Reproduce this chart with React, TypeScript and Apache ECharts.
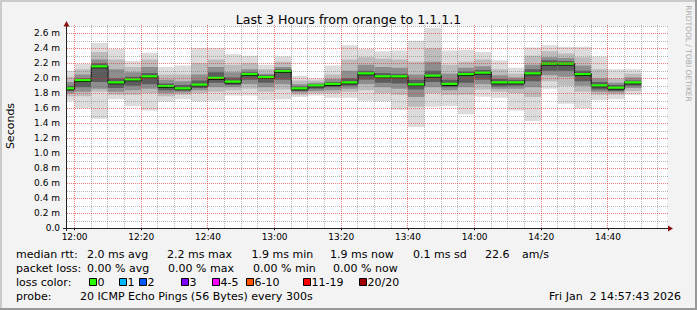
import React, { useEffect, useRef } from "react";
import * as echarts from "echarts";

// ---------- data ----------
// column end times, minutes after 12:00 (each column covers the 5 minutes before it)
const colEndMin = [0, 5, 10, 15, 20, 25, 30, 35, 40, 45, 50, 55, 60, 65, 70, 75, 80, 85, 90, 95, 100, 105, 110, 115, 120, 125, 130, 135, 140, 145, 150, 155, 160, 165, 170];
// ms
const pingMin = [1.70, 1.60, 1.46, 1.72, 1.63, 1.57, 1.69, 1.72, 1.69, 1.70, 1.77, 1.77, 1.71, 1.72, 1.75, 1.77, 1.74, 1.74, 1.70, 1.69, 1.58, 1.35, 1.62, 1.63, 1.52, 1.755, 1.74, 1.57, 1.43, 1.86, 1.66, 1.60, 1.71, 1.72, 1.78];
const smokeLo2 = [1.76, 1.76, 1.82, 1.78, 1.78, 1.80, 1.76, 1.78, 1.80, 1.82, 1.84, 1.86, 1.82, 1.85, 1.78, 1.80, 1.80, 1.82, 1.84, 1.80, 1.78, 1.62, 1.80, 1.78, 1.78, 1.85, 1.82, 1.80, 1.75, 1.96, 1.90, 1.82, 1.78, 1.78, 1.83];
const smokeLo3 = [1.80, 1.82, 1.86, 1.82, 1.84, 1.86, 1.80, 1.81, 1.84, 1.88, 1.88, 1.92, 1.88, 1.92, 1.81, 1.83, 1.84, 1.86, 1.92, 1.88, 1.86, 1.75, 1.88, 1.84, 1.88, 1.92, 1.86, 1.86, 1.88, 2.04, 2.02, 1.90, 1.82, 1.81, 1.87];
const smokeLo4 = [1.83, 1.88, 1.95, 1.87, 1.90, 1.92, 1.84, 1.84, 1.87, 1.94, 1.91, 1.98, 1.94, 1.98, 1.83, 1.86, 1.88, 1.90, 1.98, 1.94, 1.93, 1.85, 1.95, 1.88, 1.94, 1.98, 1.89, 1.90, 1.96, 2.10, 2.10, 1.96, 1.85, 1.83, 1.90];
const medianRtt = [1.86, 1.97, 2.155, 1.94, 1.98, 2.02, 1.89, 1.86, 1.91, 2.00, 1.95, 2.05, 2.01, 2.09, 1.86, 1.90, 1.92, 1.94, 2.06, 2.02, 2.02, 1.915, 2.03, 1.92, 2.05, 2.07, 1.94, 1.94, 2.06, 2.19, 2.19, 2.05, 1.90, 1.87, 1.94];
const smokeHi4 = [1.90, 2.00, 2.20, 2.00, 2.02, 2.07, 1.93, 1.91, 1.97, 2.08, 2.01, 2.08, 2.04, 2.12, 1.89, 1.92, 1.95, 2.00, 2.10, 2.07, 2.06, 1.98, 2.10, 1.98, 2.09, 2.11, 1.99, 1.98, 2.12, 2.24, 2.23, 2.10, 1.95, 1.91, 1.97];
const smokeHi3 = [1.95, 2.05, 2.25, 2.12, 2.08, 2.15, 1.98, 1.96, 2.05, 2.15, 2.08, 2.12, 2.06, 2.15, 1.92, 1.94, 1.99, 2.10, 2.18, 2.15, 2.14, 2.05, 2.22, 2.06, 2.14, 2.16, 2.04, 2.01, 2.18, 2.28, 2.27, 2.17, 2.00, 1.94, 2.01];
const smokeHi2 = [2.02, 2.12, 2.35, 2.25, 2.15, 2.25, 2.05, 2.05, 2.20, 2.25, 2.18, 2.20, 2.12, 2.22, 1.97, 1.97, 2.05, 2.25, 2.28, 2.26, 2.25, 2.22, 2.40, 2.18, 2.22, 2.25, 2.12, 2.06, 2.30, 2.36, 2.33, 2.28, 2.12, 2.00, 2.06];
const pingMax = [2.10, 2.19, 2.47, 2.39, 2.23, 2.34, 2.15, 2.17, 2.40, 2.40, 2.32, 2.30, 2.18, 2.29, 2.03, 2.00, 2.17, 2.44, 2.39, 2.36, 2.37, 2.50, 2.67, 2.37, 2.38, 2.35, 2.24, 2.14, 2.41, 2.44, 2.42, 2.42, 2.29, 2.12, 2.12];

const xTickMinutes = [0, 20, 40, 60, 80, 100, 120, 140, 160];
const xTickLabels = ["12:00", "12:20", "12:40", "13:00", "13:20", "13:40", "14:00", "14:20", "14:40"];
const xGridMinutes = [0, 5, 10, 15, 20, 25, 30, 35, 40, 45, 50, 55, 60, 65, 70, 75, 80, 85, 90, 95, 100, 105, 110, 115, 120, 125, 130, 135, 140, 145, 150, 155, 160, 165, 170, 175];
const yGridMs = [0.1, 0.2, 0.3, 0.4, 0.5, 0.6, 0.7, 0.8, 0.9, 1.0, 1.1, 1.2, 1.3, 1.4, 1.5, 1.6, 1.7, 1.8, 1.9, 2.0, 2.1, 2.2, 2.3, 2.4, 2.5, 2.6, 2.7];
const yMajorMs = [0.2, 0.4, 0.6, 0.8, 1.0, 1.2, 1.4, 1.6, 1.8, 2.0, 2.2, 2.4, 2.6];

const X_MIN = -2.2833; // 11:57:43
const X_MAX = 177.7167; // 14:57:43
const STEP = 5;

const titleText = "Last 3 Hours from orange to 1.1.1.1";
const medianStats = ["2.0 ms avg", "2.2 ms max", "1.9 ms min", "1.9 ms now", "0.1 ms sd", "22.6", "am/s"];
const lossStats = ["0.00 % avg", "0.00 % max", "0.00 % min", "0.00 % now"];
const lossLabels = ["0", "1", "2", "3", "4-5", "6-10", "11-19", "20/20"];
const lossColors = ["#26ff00", "#00b8ff", "#0059ff", "#7e00ff", "#ff00ff", "#ff5500", "#ff0000", "#a10000"];
const probeText = "20 ICMP Echo Pings (56 Bytes) every 300s";
const dateText = "Fri Jan  2 14:57:43 2026";

const FONT = "DejaVu Sans";
const MINOR = "rgba(110,110,110,0.5)";
const MAJOR = "rgba(235,40,40,0.62)";

export default function App() {
  const ref = useRef<HTMLDivElement>(null);
  useEffect(() => {
    if (!ref.current) return;
    const chart = echarts.init(ref.current, undefined, { renderer: "svg" });

    const smokeData = colEndMin.map((t, i) => [t, pingMin[i], smokeLo2[i], smokeLo3[i], smokeLo4[i], medianRtt[i], smokeHi4[i], smokeHi3[i], smokeHi2[i], pingMax[i]]);
    const bandColors = ["#dcdcdc", "#bcbcbc", "#8e8e8e", "#5c5c5c"];

    const renderSmoke = (params: any, api: any) => {
      const end = api.value(0);
      const xs = api.coord([end - STEP, 0])[0];
      const xe = api.coord([end, 0])[0];
      const children: any[] = [];
      for (let b = 0; b < 4; b++) {
        const lo = api.value(1 + b);
        const hi = api.value(9 - b);
        const yt = api.coord([end, hi])[1];
        const yb = api.coord([end, lo])[1];
        children.push({ type: "rect", shape: { x: xs, y: yt, width: xe - xs, height: yb - yt }, style: { fill: bandColors[b] } });
      }
      return { type: "group", children };
    };

    const renderMedian = (params: any, api: any) => {
      const i = params.dataIndex;
      const end = api.value(0);
      const xs = api.coord([end - STEP, 0])[0];
      const xe = api.coord([end, 0])[0];
      const ym = api.coord([end, api.value(5)])[1];
      const children: any[] = [];
      if (i > 0) {
        const yp = api.coord([end, medianRtt[i - 1]])[1];
        children.push({ type: "rect", shape: { x: xs - 0.5, y: Math.min(yp, ym) - 1, width: 1, height: Math.abs(yp - ym) + 2 }, style: { fill: "#000" } });
      }
      children.push({ type: "rect", shape: { x: xs, y: ym + 0.5, width: xe - xs, height: 1 }, style: { fill: "#000" } });
      children.push({ type: "rect", shape: { x: xs, y: ym - 1.5, width: xe - xs, height: 2.2 }, style: { fill: lossColors[0] } });
      return { type: "group", children };
    };

    // all grid lines in one element group, placed through the axes' scales
    const renderGrid = (params: any, api: any) => {
      const cs = params.coordSys;
      const top = Math.floor(cs.y);
      const children: any[] = [];
      xGridMinutes.forEach((t) => {
        const x = Math.floor(api.coord([t, 1])[0]) + 0.5;
        const major = xTickMinutes.indexOf(t) >= 0;
        children.push({
          type: "line",
          shape: { x1: x, y1: top, x2: x, y2: cs.y + cs.height },
          style: { stroke: major ? MAJOR : MINOR, lineWidth: 1, lineDash: [1, 1], fill: null },
        });
      });
      yGridMs.forEach((v) => {
        const y = Math.round(api.coord([0, v])[1]) + 0.5;
        const major = yMajorMs.indexOf(v) >= 0;
        children.push({
          type: "line",
          shape: { x1: cs.x, y1: y, x2: cs.x + cs.width + 2, y2: y },
          style: { stroke: major ? MAJOR : MINOR, lineWidth: 1, lineDash: [1, 1], fill: null },
        });
      });
      return { type: "group", children };
    };

    const text = (t: string, x: number, y: number, extra: any = {}) => ({
      type: "text",
      x,
      y,
      silent: true,
      style: { text: t, fill: "#000", fontFamily: FONT, fontSize: 11, verticalAlign: "middle", align: "left", ...(extra.style || {}) },
      ...(extra.el || {}),
    });

    const medX = [87, 167, 251.5, 330, 413, 485, 522];
    const lossX = [87, 168, 253, 333];
    const swX = [89, 119, 139, 181, 212, 246, 303, 359];

    const graphic: any[] = [
      // frame
      { type: "rect", shape: { x: 0, y: 0, width: 697, height: 2 }, style: { fill: "#cbcbcb" }, silent: true },
      { type: "rect", shape: { x: 0, y: 0, width: 2, height: 310 }, style: { fill: "#cbcbcb" }, silent: true },
      { type: "rect", shape: { x: 695, y: 0, width: 2, height: 310 }, style: { fill: "#999999" }, silent: true },
      { type: "rect", shape: { x: 0, y: 308, width: 697, height: 2 }, style: { fill: "#999999" }, silent: true },
      // axes
      { type: "line", shape: { x1: 63, y1: 228.5, x2: 670, y2: 228.5 }, style: { stroke: "#222", lineWidth: 1 }, z: 10, silent: true },
      { type: "line", shape: { x1: 66.5, y1: 231, x2: 66.5, y2: 25 }, style: { stroke: "#222", lineWidth: 1 }, z: 10, silent: true },
      { type: "polygon", shape: { points: [[668, 225.5], [673, 228.5], [668, 231.5]] }, style: { fill: "#8b1010" }, z: 10, silent: true },
      { type: "polygon", shape: { points: [[63.5, 26.5], [66.5, 21], [69.5, 26.5]] }, style: { fill: "#8b1010" }, z: 10, silent: true },
      // title
      text(titleText, 348.5, 19, { style: { fontSize: 12.6, align: "center" } }),
      // axis names
      text("Seconds", 10, 126, { style: { align: "center" }, el: { rotation: Math.PI / 2 } }),
      text("RRDTOOL / TOBI OETIKER", 688, 53.5, { style: { align: "center", fontSize: 7.5, fill: "#aaaaaa" }, el: { rotation: -Math.PI / 2 } }),
      // legend
      text("median rtt:", 16, 254.5),
      ...medianStats.map((s, i) => text(s, medX[i], 254.5)),
      text("packet loss:", 16, 268.5),
      ...lossStats.map((s, i) => text(s, lossX[i], 268.5)),
      text("loss color:", 16, 282.5),
      ...lossColors.map((c, i) => ({ type: "rect", shape: { x: swX[i] + 0.5, y: 278.5, width: 7, height: 7 }, style: { fill: c, stroke: "#000", lineWidth: 1 }, silent: true })),
      ...lossLabels.map((s, i) => text(s, swX[i] + 8.5, 282.5)),
      text("probe:", 16, 296.5),
      text(probeText, 80, 296.5),
      text(dateText, 681, 296.5, { style: { align: "right" } }),
    ];

    chart.setOption({
      animation: false,
      backgroundColor: "#f3f3f3",
      grid: { left: 67, right: 30, top: 25.8, bottom: 81.7, show: true, backgroundColor: "#ffffff", borderWidth: 0 },
      xAxis: {
        type: "value",
        min: X_MIN,
        max: X_MAX,
        axisLine: { show: false },
        splitLine: { show: false },
        axisTick: { show: true, customValues: xTickMinutes, length: 2, lineStyle: { color: "#222" } },
        axisLabel: {
          customValues: xTickMinutes,
          formatter: (v: number) => xTickLabels[xTickMinutes.indexOf(Math.round(v))] ?? "",
          fontFamily: FONT,
          fontSize: 9,
          color: "#000",
          margin: 4,
        },
      },
      yAxis: {
        type: "value",
        min: 0,
        max: 2.7,
        interval: 0.2,
        axisLine: { show: false },
        axisTick: { show: false },
        splitLine: { show: false },
        axisLabel: {
          showMaxLabel: false,
          formatter: (v: number) => (v === 0 ? "0.0" : v.toFixed(1) + " m"),
          fontFamily: FONT,
          fontSize: 9,
          color: "#000",
          margin: 7,
        },
      },
      series: [
        { type: "custom", renderItem: renderSmoke, data: smokeData, clip: true, encode: { x: 0, y: 5 }, z: 2, silent: true },
        { type: "custom", renderItem: renderMedian, data: smokeData, clip: true, encode: { x: 0, y: 5 }, z: 3, silent: true },
        { type: "custom", renderItem: renderGrid, data: [[0, 1]], clip: false, encode: { x: 0, y: 1 }, z: 4, silent: true },
      ],
      graphic,
    });
    return () => chart.dispose();
  }, []);
  return <div ref={ref} style={{ position: "absolute", left: 0, top: 0, width: 697, height: 310 }} />;
}
